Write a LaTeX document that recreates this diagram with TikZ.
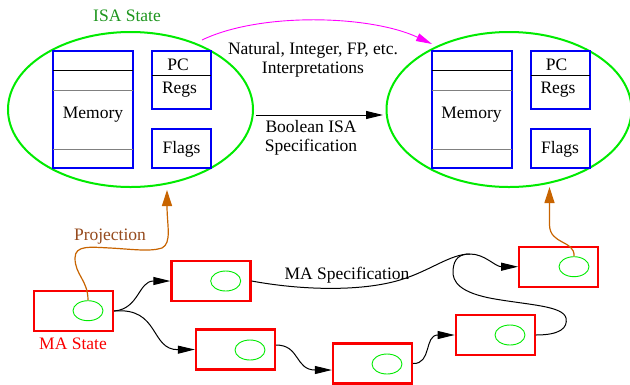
\documentclass[tikz,border=0pt]{standalone}
\usepackage{fontspec}
\setmainfont{Liberation Serif}
\newfontfamily\timesfont{Liberation Serif}
\usetikzlibrary{shapes.geometric,arrows.meta}
\definecolor{isagreen}{RGB}{0,235,0}
\definecolor{isatext}{RGB}{30,150,30}
\definecolor{boxblue}{RGB}{0,0,245}
\definecolor{marred}{RGB}{250,0,0}
\definecolor{projorange}{RGB}{200,100,0}
\definecolor{projtext}{RGB}{150,75,30}
\definecolor{magarrow}{RGB}{255,0,255}
\tikzset{
  bigell/.style={draw=isagreen, line width=2pt, ellipse, minimum width=245pt, minimum height=155pt, inner sep=0pt},
  bluebox/.style={draw=boxblue, line width=2pt, rectangle, inner sep=0pt},
  mabox/.style={draw=marred, line width=2.3pt, rectangle, minimum width=79pt, minimum height=40pt, inner sep=0pt},
  smallell/.style={draw=isagreen, line width=0.9pt, ellipse, minimum width=30pt, minimum height=20pt, inner sep=0pt},
  lbl/.style={font=\timesfont\fontsize{17.5}{19.5}\selectfont, inner sep=0pt, align=center},
  conn/.style={draw=black, line width=1pt, -{Triangle[length=17pt,width=8pt]}},
  connplain/.style={draw=black, line width=1pt},
  proj/.style={draw=projorange, line width=1.2pt, -{Triangle[length=16pt,width=10pt]}},
  memline/.style={line width=1pt}
}
\begin{document}
\begin{tikzpicture}[x=1pt,y=-1pt]
\useasboundingbox (0,0) rectangle (630,384);
\fill[white] (0,0) rectangle (630,384);

% ---- left ISA state
\node[bigell] (ellL) at (130.5,109.5) {};
\node[bluebox, minimum width=80pt, minimum height=117pt] (memL) at (93,109.5) {};
\node[bluebox, minimum width=59pt, minimum height=58pt] (pcL) at (181.5,80) {};
\node[bluebox, minimum width=59pt, minimum height=39pt] (flagsL) at (181.5,148.5) {};
\draw[memline, black] (53,70) -- (133,70);
\draw[memline, gray] (53,90) -- (133,90);
\draw[memline, gray] (53,149) -- (133,149);
\draw[memline, black] (152,75) -- (211,75);
\node[lbl] (memtL) at (93,115) {Memory};
\node[lbl] (pctL) at (178,65) {PC};
\node[lbl] (regtL) at (179.5,89.5) {Regs};
\node[lbl] (flagtL) at (181.5,149) {Flags};
\node[lbl, text=isatext] (isat) at (127,16) {ISA State};

% ---- right ISA state
\node[bigell] (ellR) at (509,109.5) {};
\node[bluebox, minimum width=80pt, minimum height=117pt] (memR) at (471.5,109.5) {};
\node[bluebox, minimum width=59pt, minimum height=58pt] (pcR) at (560,80) {};
\node[bluebox, minimum width=59pt, minimum height=39pt] (flagsR) at (560,148.5) {};
\draw[memline, black] (431.5,70) -- (511.5,70);
\draw[memline, gray] (431.5,90) -- (511.5,90);
\draw[memline, gray] (431.5,149) -- (511.5,149);
\draw[memline, black] (530.5,75) -- (589.5,75);
\node[lbl] (memtR) at (471.5,115) {Memory};
\node[lbl] (pctR) at (556.5,65) {PC};
\node[lbl] (regtR) at (558,89.5) {Regs};
\node[lbl] (flagtR) at (560,149) {Flags};

% ---- top connectors
\coordinate (magS) at (202,40);
\coordinate (magE) at (432,44);
\draw[draw=magarrow, line width=0.9pt, -{Triangle[length=16pt,width=8pt]}] (magS) .. controls (260,12) and (370,15) .. (magE);
\node[lbl] (interp) at (313,60) {Natural, Integer, FP, etc.\\Interpretations};
\coordinate (boolS) at (256,115);
\coordinate (boolE) at (383,115);
\draw[conn] (boolS) -- (boolE);
\node[lbl] (boolt) at (311,138) {Boolean ISA\\Specification};

% ---- MA states
\node[mabox] (b1) at (73.5,311) {};
\node[mabox] (b2) at (211,281) {};
\node[mabox] (b3) at (235.5,349.5) {};
\node[mabox] (b4) at (372.5,363.5) {};
\node[mabox] (b5) at (495.3,335) {};
\node[mabox] (b6) at (558.8,266.7) {};
\node[smallell] (e1) at (88,310.7) {};
\node[smallell] (e2) at (225.7,281) {};
\node[smallell] (e3) at (250,350) {};
\node[smallell] (e4) at (387,364) {};
\node[smallell] (e5) at (510,335) {};
\node[smallell] (e6) at (574,266.7) {};
\node[lbl, text=marred] (mat) at (73,344) {MA State};

% ---- MA connectors
\draw[conn] (b1.east) .. controls +(25,-2) and +(-32,0) .. (b2.west);
\draw[conn] (b1.east) .. controls (160,307) and (150,350) .. (b3.west);
\draw[conn] ([yshift=4.5pt]b3.east) .. controls (300,345) and (295,370) .. ([yshift=-6.5pt]b4.west);
\draw[conn] (b4.east) .. controls (432,364) and (424,335) .. (b5.west);
\coordinate (peak) at (470,254);
\draw[conn] (b2.east) .. controls (300,290) and (360,292) .. (400,280)
  .. controls (430,271) and (450,254) .. (peak)
  .. controls (485,254) and (495,266.7) .. (b6.west);
\draw[connplain] (b5.east) .. controls (560,335) and (568,328) .. (566,318)
  .. controls (563,306) and (530,305) .. (495,299)
  .. controls (460,293) and (452,282) .. (453,270)
  .. controls (454,258) and (460,254) .. (peak);
\node[lbl] (mast) at (347,275) {MA Specification};

% ---- projections
\coordinate (projLE) at (167,190);
\draw[proj] (e1.north) .. controls (88,280) and (75,275) .. (75,258)
  .. controls (75,245) and (90,247) .. (110,248)
  .. controls (130,249) and (150,252) .. (162,248)
  .. controls (172,243) and (167,225) .. (projLE);
\node[lbl, text=projtext] (projt) at (110,236.5) {Projection};
\coordinate (projRE) at (549.5,187);
\draw[proj] (e6.north) .. controls (575,240) and (550,245) .. (549.5,225) -- (projRE);
\end{tikzpicture}
\end{document}
